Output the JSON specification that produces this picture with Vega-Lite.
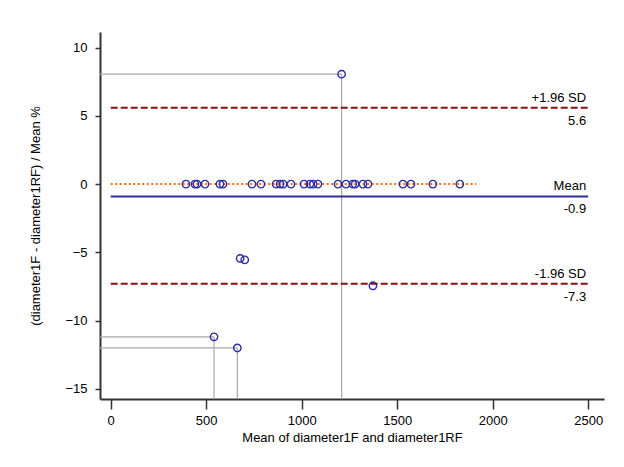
{
  "$schema": "https://vega.github.io/schema/vega-lite/v6.json",
  "autosize": {"type": "none"},
  "width": 504,
  "height": 367,
  "padding": {"left": 100, "top": 32, "right": 20, "bottom": 68},
  "background": "white",
  "config": {
    "view": {"stroke": null},
    "font": "Liberation Sans",
    "axis": {"grid": false, "labelFont": "Liberation Sans", "titleFont": "Liberation Sans", "labelColor": "#000", "titleColor": "#000", "titleFontWeight": "normal", "domainColor": "#333", "tickColor": "#333", "labelOverlap": false, "labelBound": false, "labelFlush": false}
  },
  "datasets": {
    "points": [
      {"mean": 394, "pct": 0}, {"mean": 441, "pct": 0}, {"mean": 452, "pct": 0}, {"mean": 494, "pct": 0},
      {"mean": 572, "pct": 0}, {"mean": 588, "pct": 0}, {"mean": 740, "pct": 0}, {"mean": 787, "pct": 0},
      {"mean": 866, "pct": 0}, {"mean": 887, "pct": 0}, {"mean": 903, "pct": 0}, {"mean": 944, "pct": 0},
      {"mean": 1012, "pct": 0}, {"mean": 1043, "pct": 0}, {"mean": 1060, "pct": 0}, {"mean": 1085, "pct": 0},
      {"mean": 1190, "pct": 0}, {"mean": 1232, "pct": 0}, {"mean": 1268, "pct": 0}, {"mean": 1280, "pct": 0},
      {"mean": 1321, "pct": 0}, {"mean": 1347, "pct": 0}, {"mean": 1530, "pct": 0}, {"mean": 1572, "pct": 0},
      {"mean": 1687, "pct": 0}, {"mean": 1828, "pct": 0},
      {"mean": 1209, "pct": 8.06},
      {"mean": 678, "pct": -5.45}, {"mean": 702, "pct": -5.55},
      {"mean": 1373, "pct": -7.45},
      {"mean": 541, "pct": -11.19},
      {"mean": 663, "pct": -12.01}
    ],
    "guides": [
      {"x1": -56, "x2": 1209, "y1": 8.06, "y2": 8.06},
      {"x1": 1209, "x2": 1209, "y1": -15.75, "y2": 8.06},
      {"x1": -56, "x2": 541, "y1": -11.19, "y2": -11.19},
      {"x1": 541, "x2": 541, "y1": -15.75, "y2": -11.19},
      {"x1": -56, "x2": 663, "y1": -12.01, "y2": -12.01},
      {"x1": 663, "x2": 663, "y1": -15.75, "y2": -12.01}
    ],
    "fit": [{"x1": 0, "x2": 1915, "y": 0}],
    "meanline": [{"x1": 0, "x2": 2500, "y": -0.9}],
    "sdlines": [
      {"x1": 0, "x2": 2500, "y": 5.6},
      {"x1": 0, "x2": 2500, "y": -7.3}
    ],
    "labels": [
      {"x": 2500, "y": 5.6, "top": "+1.96 SD", "bottom": "5.6"},
      {"x": 2500, "y": -0.9, "top": "Mean", "bottom": "-0.9"},
      {"x": 2500, "y": -7.3, "top": "-1.96 SD", "bottom": "-7.3"}
    ]
  },
  "layer": [
    {
      "data": {"name": "guides"},
      "mark": {"type": "rule", "color": "#a8a8a8", "strokeWidth": 1.2},
      "encoding": {
        "x": {"field": "x1", "type": "quantitative", "scale": {"domain": [-56, 2583], "nice": false, "zero": false},
          "axis": {"values": [0, 500, 1000, 1500, 2000, 2500], "format": "d", "title": "Mean of diameter1F and diameter1RF", "domainWidth": 2, "tickSize": 10, "tickWidth": 1.5, "labelFontSize": 13, "titleFontSize": 13, "labelPadding": 5, "titlePadding": 4}},
        "x2": {"field": "x2"},
        "y": {"field": "y1", "type": "quantitative", "scale": {"domain": [-15.75, 11.15], "nice": false, "zero": false},
          "axis": {"values": [-15, -10, -5, 0, 5, 10], "format": "d", "title": "(diameter1F - diameter1RF) / Mean %", "domainWidth": 2, "tickSize": 5, "tickWidth": 1.5, "labelFontSize": 13, "titleFontSize": 13, "labelPadding": 8, "titlePadding": 22}},
        "y2": {"field": "y2"}
      }
    },
    {
      "data": {"name": "fit"},
      "mark": {"type": "rule", "color": "#ff6a13", "strokeWidth": 2, "strokeDash": [2, 2.5]},
      "encoding": {
        "x": {"field": "x1", "type": "quantitative"},
        "x2": {"field": "x2"},
        "y": {"field": "y", "type": "quantitative"}
      }
    },
    {
      "data": {"name": "meanline"},
      "mark": {"type": "rule", "color": "#2e2e9a", "strokeWidth": 2},
      "encoding": {
        "x": {"field": "x1", "type": "quantitative"},
        "x2": {"field": "x2"},
        "y": {"field": "y", "type": "quantitative"}
      }
    },
    {
      "data": {"name": "sdlines"},
      "mark": {"type": "rule", "color": "#8b1010", "strokeWidth": 2, "strokeDash": [7, 3]},
      "encoding": {
        "x": {"field": "x1", "type": "quantitative"},
        "x2": {"field": "x2"},
        "y": {"field": "y", "type": "quantitative"}
      }
    },
    {
      "data": {"name": "points"},
      "mark": {"type": "point", "shape": "circle", "filled": false, "color": "#2e2ea0", "strokeWidth": 1.4, "size": 55, "opacity": 1},
      "encoding": {
        "x": {"field": "mean", "type": "quantitative"},
        "y": {"field": "pct", "type": "quantitative"}
      }
    },
    {
      "data": {"name": "labels"},
      "mark": {"type": "text", "align": "right", "baseline": "middle", "dx": -2, "dy": -10, "fontSize": 13, "color": "#000"},
      "encoding": {
        "x": {"field": "x", "type": "quantitative"},
        "y": {"field": "y", "type": "quantitative"},
        "text": {"field": "top"}
      }
    },
    {
      "data": {"name": "labels"},
      "mark": {"type": "text", "align": "right", "baseline": "middle", "dx": -2, "dy": 13, "fontSize": 13, "color": "#000"},
      "encoding": {
        "x": {"field": "x", "type": "quantitative"},
        "y": {"field": "y", "type": "quantitative"},
        "text": {"field": "bottom"}
      }
    }
  ]
}
